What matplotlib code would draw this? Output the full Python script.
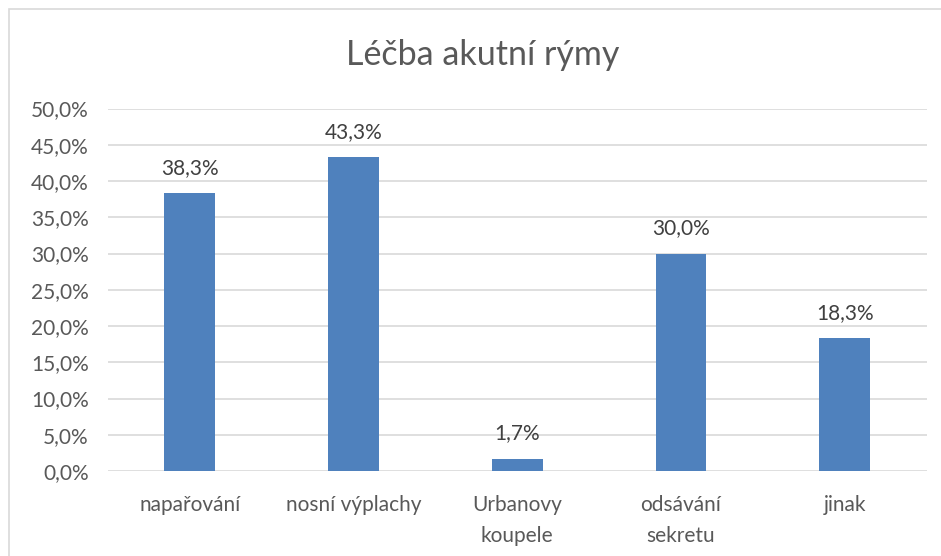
import matplotlib
matplotlib.use("Agg")
import matplotlib.pyplot as plt
from matplotlib.patches import Rectangle
from matplotlib.ticker import FuncFormatter

categories = ["napařování", "nosní výplachy", "Urbanovy\nkoupele", "odsávání\nsekretu", "jinak"]
values = [38.3, 43.3, 1.7, 30.0, 18.3]
yticks = [0, 5, 10, 15, 20, 25, 30, 35, 40, 45, 50]

plt.rcParams["font.family"] = ["Lato", "DejaVu Sans"]

fig = plt.figure(figsize=(9.41, 5.56), dpi=100)
ax = fig.add_axes([108 / 941, 1 - 471 / 556, 818.5 / 941, (471 - 108.5) / 556])

x = range(len(categories))
ax.bar(x, values, width=0.31, color="#4f81bd", zorder=3)
for xi, v in zip(x, values):
    ax.annotate(f"{v:.1f}%".replace(".", ","), (xi, v), xytext=(0, 11),
                textcoords="offset points", ha="center", va="bottom",
                fontsize=15, color="#404040")

ax.set_xlim(-0.5, len(categories) - 0.5)
ax.set_ylim(0, 50)
ax.set_yticks(yticks)
ax.yaxis.set_major_formatter(FuncFormatter(lambda v, _: f"{v:.1f}%".replace(".", ",")))
ax.set_xticks(list(x))
ax.set_xticklabels(categories, linespacing=1.7)
ax.tick_params(axis="both", length=0, labelsize=15, labelcolor="#595959")
ax.tick_params(axis="x", pad=17)
ax.tick_params(axis="y", pad=14)
ax.grid(axis="y", color="#d9d9d9", lw=1.2, zorder=0)
for s in ax.spines.values():
    s.set_visible(False)

fig.text(483 / 941, 1 - 55 / 556, "Léčba akutní rýmy", ha="center", va="center",
         fontsize=24.5, color="#595959")

# chart border
fig.patches.append(Rectangle((9 / 941, -0.01), 1.02, 1 - 9 / 556 + 0.01,
                             transform=fig.transFigure, fill=False,
                             edgecolor="#d9d9d9", lw=1.2))

fig.savefig("out.png", dpi=100)
